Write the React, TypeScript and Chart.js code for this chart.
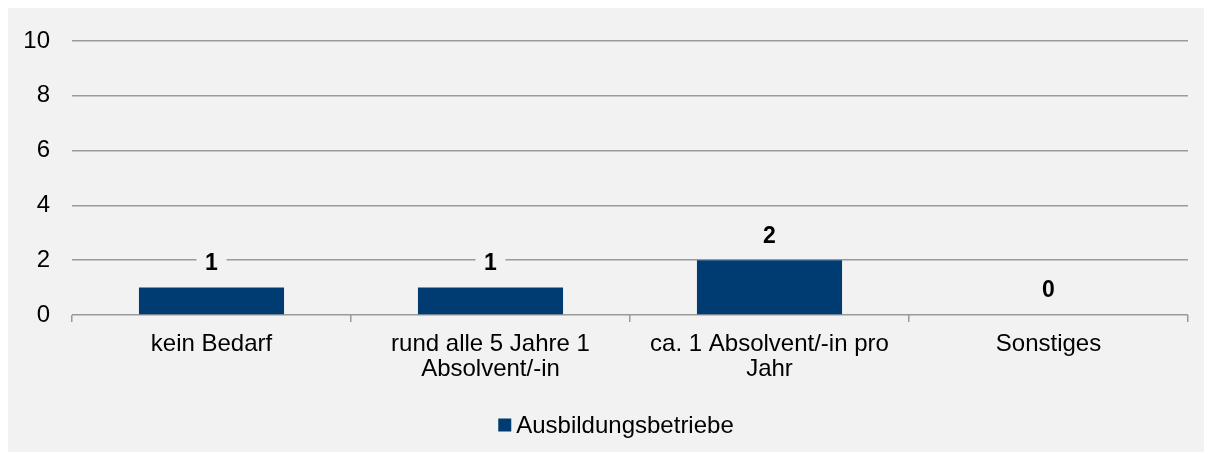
import React, { useEffect, useRef } from "react";
import { Chart, registerables } from "chart.js";

Chart.register(...registerables);

const categories: (string | string[])[] = [
  "kein Bedarf",
  ["rund alle 5 Jahre 1", "Absolvent/-in"],
  ["ca. 1 Absolvent/-in pro", "Jahr"],
  "Sonstiges",
];
const seriesName = "Ausbildungsbetriebe";
const seriesValues = [1, 1, 2, 0];
const yTicks = [0, 2, 4, 6, 8, 10];

const BG = "#f2f2f2";
const BAR = "#003c71";
const GRID = "#9a9a9a";
const FONT = "'Liberation Sans', Arial, sans-serif";
const FS = 24;

const dataLabelPlugin = {
  id: "dataLabels",
  afterDatasetsDraw(chart: any) {
    const ctx = chart.ctx;
    const meta = chart.getDatasetMeta(0);
    ctx.save();
    ctx.font = `bold ${FS - 1}px ${FONT}`;
    ctx.textAlign = "center";
    ctx.textBaseline = "middle";
    meta.data.forEach((bar: any, i: number) => {
      const x = bar.x;
      const y = bar.y - 25;
      const text = String(seriesValues[i]);
      ctx.fillStyle = BG;
      ctx.fillRect(x - 15, y - 12, 30, 24);
      ctx.fillStyle = "#000";
      ctx.fillText(text, x, y + 1);
    });
    ctx.restore();
  },
};

const legendPlugin = {
  id: "customLegend",
  afterDraw(chart: any) {
    const ctx = chart.ctx;
    ctx.save();
    ctx.font = `${FS}px ${FONT}`;
    const tw = ctx.measureText(seriesName).width;
    const box = 13;
    const gap = 5;
    const total = box + gap + tw;
    const cx = chart.width / 2 + 10;
    const x0 = cx - total / 2;
    const cy = chart.height - 27;
    ctx.fillStyle = BAR;
    ctx.fillRect(x0, cy - box / 2, box, box);
    ctx.fillStyle = "#000";
    ctx.textAlign = "left";
    ctx.textBaseline = "middle";
    ctx.fillText(seriesName, x0 + box + gap, cy + 1);
    ctx.restore();
  },
};

export default function App() {
  const ref = useRef<HTMLCanvasElement | null>(null);
  useEffect(() => {
    if (!ref.current) return;
    const chart = new Chart(ref.current, {
      type: "bar",
      data: {
        labels: categories as any,
        datasets: [
          {
            label: seriesName,
            data: seriesValues,
            backgroundColor: BAR,
            borderWidth: 0,
            categoryPercentage: 1,
            barPercentage: 0.52,
          },
        ],
      },
      options: {
        responsive: false,
        animation: false,
        layout: { padding: { top: 33, right: 16, bottom: 49, left: 0 } },
        plugins: {
          tooltip: { enabled: false },
          legend: { display: false },
        },
        scales: {
          x: {
            offset: true,
            grid: {
              offset: true,
              drawOnChartArea: false,
              drawTicks: true,
              tickLength: 7,
              color: GRID,
              lineWidth: 1.5,
            },
            border: { display: false },
            ticks: {
              color: "#000",
              padding: 10,
              maxRotation: 0,
              autoSkip: false,
              font: { family: FONT, size: FS, lineHeight: 1.05 },
            },
            afterFit(scale: any) {
              scale.height = 88;
              scale.paddingLeft = 0;
              scale.paddingRight = 0;
            },
          },
          y: {
            min: 0,
            max: 10,
            afterBuildTicks(scale: any) {
              scale.ticks = yTicks.map((v) => ({ value: v }));
            },
            grid: {
              drawTicks: false,
              color: GRID,
              lineWidth: 1.5,
            },
            border: { display: false },
            ticks: {
              color: "#000",
              padding: 22,
              font: { family: FONT, size: FS },
            },
            afterFit(scale: any) {
              scale.width = 64;
              scale.paddingTop = 0;
              scale.paddingBottom = 0;
            },
          },
        },
      },
      plugins: [dataLabelPlugin, legendPlugin],
    });
    return () => chart.destroy();
  }, []);
  return (
    <div style={{ width: 1196, height: 444, background: BG }}>
      <canvas ref={ref} width={1196} height={444} style={{ display: "block" }} />
    </div>
  );
}
